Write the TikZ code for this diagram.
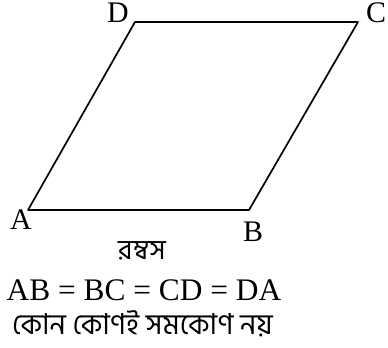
\documentclass[tikz,border=0pt]{standalone}
\usepackage{fontspec}
\setmainfont{Liberation Serif}
\newfontfamily\bnfont[Script=Bengali]{Hind Siliguri}
\begin{document}
\begin{tikzpicture}[x=1bp,y=-1bp,
  edge/.style={line width=1.7bp,line join=round},
  vlabel/.style={font=\fontsize{30}{32}\selectfont,inner sep=0pt,anchor=base,text height=0.66em,text depth=0pt},
  txt/.style={font=\fontsize{31.5}{33}\selectfont,inner sep=0pt,anchor=base},
  bn/.style={font=\bnfont\fontsize{28}{30}\selectfont,inner sep=0pt,anchor=base}]
\useasboundingbox (0,0) rectangle (388,348);
\coordinate (A) at (28,210);
\coordinate (B) at (249,210);
\coordinate (C) at (358,22);
\coordinate (D) at (135,22);
\draw[edge] (A) -- (B) -- (C) -- (D) -- cycle;
\node[vlabel] (lA) at (21,229) {A};
\node[vlabel] (lB) at (253,241) {B};
\node[vlabel,anchor=base west] (lC) at (366,22) {C};
\node[vlabel] (lD) at (118,22) {D};
\node[bn] (name) at (142,259) {রম্বস};
\node[txt] (eq) at (144,300) {AB = BC = CD = DA};
\node[bn,font=\bnfont\fontsize{29}{31}\selectfont] (note) at (142.5,334) {কোন কোণই সমকোণ নয়};
\end{tikzpicture}
\end{document}
